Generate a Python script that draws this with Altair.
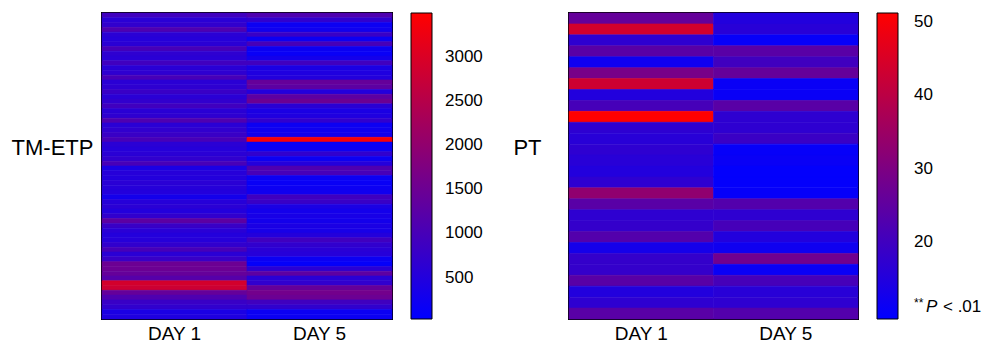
import altair as alt
import pandas as pd

days = ["DAY 1", "DAY 5"]

# TM-ETP (64 rows, top to bottom)
tm_day1 = [900, 600, 700, 1100, 600, 550, 600, 1000, 650, 600, 900, 600, 650, 1000, 600, 650,
           800, 600, 700, 900, 600, 650, 1100, 600, 700, 800, 1000, 600, 550, 600, 700, 1000,
           400, 550, 500, 600, 550, 500, 300, 550, 600, 500, 700, 1300, 800, 600, 500, 550,
           700, 1000, 600, 800, 1500, 1500, 1400, 1200, 2900, 2800, 1400, 1100, 800, 700, 400, 450]
tm_day5 = [1100, 700, 200, 250, 800, 200, 1000, 200, 150, 300, 900, 400, 450, 500, 1400, 1300,
           500, 1300, 1500, 600, 400, 450, 700, 200, 250, 300, 3400, 150, 200, 700, 200, 500,
           1100, 1000, 200, 150, 200, 250, 900, 800, 400, 300, 350, 300, 400, 350, 500, 900,
           700, 600, 550, 200, 100, 600, 1300, 600, 700, 1400, 1600, 1500, 900, 700, 200, 200]

# PT (28 rows, top to bottom)
pt_day1 = [26, 44, 17, 24, 12, 29, 43, 15, 21, 51, 17, 16, 17, 16,
           15, 17, 33, 24, 17, 18, 23, 13, 18, 18, 24, 15, 17, 24]
pt_day5 = [15, 16, 10.5, 24, 20, 26, 11, 11, 24, 17, 17, 19, 10.5, 11,
           10, 10, 10.5, 23, 17, 21, 15, 12, 28, 11, 21, 16, 17, 23]

tm_ticks = [500, 1000, 1500, 2000, 2500, 3000]
pt_ticks = [20, 30, 40, 50]
tm_domain = [30, 3500]
pt_domain = [9.5, 51.2]

note_parts = ["**", "P", "< .01"]

FONT = "Liberation Sans"


def to_df(d1, d5):
    rows = []
    for i, v in enumerate(d1):
        rows.append({"day": days[0], "row": i, "value": v})
    for i, v in enumerate(d5):
        rows.append({"day": days[1], "row": i, "value": v})
    return pd.DataFrame(rows)


def heat(df, title, title_x, domain, ticks, label_offset, width):
    cscale = alt.Scale(domain=domain, range=["#0000ff", "#ff0000"], interpolate="rgb")
    # stroke uses a doubled copy of the value so that its legend is not merged with the fill one
    sscale = alt.Scale(domain=[2 * domain[0], 2 * domain[1]], range=["#0000ff", "#ff0000"],
                       interpolate="rgb")
    return alt.Chart(df).transform_calculate(edge="2 * datum.value").mark_rect(strokeWidth=0.6).encode(
        x=alt.X("day:N", sort=days, scale=alt.Scale(padding=0),
                axis=alt.Axis(title=None, labelAngle=0, ticks=False, domain=False,
                              labelFontSize=19, labelFont=FONT, labelColor="black",
                              labelPadding=5)),
        y=alt.Y("row:O", scale=alt.Scale(padding=0),
                axis=alt.Axis(labels=False, ticks=False, domain=False, title=title,
                              titleAngle=0, titleAlign="right", titleBaseline="middle",
                              titleX=title_x, titleY=134, titleFontSize=22,
                              titleFont=FONT, titleFontWeight="normal", titleColor="black")),
        color=alt.Color("value:Q", scale=cscale,
                        legend=alt.Legend(type="gradient", title=None, values=ticks,
                                          format="d", gradientLength=306,
                                          gradientThickness=21, offset=19, padding=0,
                                          labelOffset=label_offset, labelFontSize=17,
                                          labelFont=FONT, labelColor="black",
                                          gradientStrokeColor="black", gradientStrokeWidth=1,
                                          labelOverlap=False, direction="vertical")),
        stroke=alt.Stroke("edge:Q", scale=sscale, legend=None),
    ).properties(width=width, height=306)


left = heat(to_df(tm_day1, tm_day5), "TM-ETP", -9, tm_domain, tm_ticks, 13, 290)
right_heat = heat(to_df(pt_day1, pt_day5), "PT", -28, pt_domain, pt_ticks, 16, 289)

note_df = pd.DataFrame({"t": note_parts})
note_stars = alt.Chart(note_df).transform_filter(alt.datum.t == note_parts[0]).mark_text(
    align="left", baseline="middle", fontSize=12, font=FONT, color="black"
).encode(x=alt.value(345), y=alt.value(290), text="t:N")
note_p = alt.Chart(note_df).transform_filter(alt.datum.t == note_parts[1]).mark_text(
    align="left", baseline="middle", fontSize=17, font=FONT, fontStyle="italic", color="black"
).encode(x=alt.value(357), y=alt.value(294), text="t:N")
note_rest = alt.Chart(note_df).transform_filter(alt.datum.t == note_parts[2]).mark_text(
    align="left", baseline="middle", fontSize=17, font=FONT, color="black"
).encode(x=alt.value(374), y=alt.value(294), text="t:N")

right = alt.layer(right_heat, note_stars, note_p, note_rest)

chart = alt.hconcat(left, right, spacing=27).resolve_scale(
    color="independent", stroke="independent", y="independent", x="independent"
).resolve_legend(color="independent").properties(
    padding={"left": 2, "top": 3, "right": 5, "bottom": 2}
).configure_view(stroke="black", strokeWidth=2)

chart.save("out.html", embed_options={"renderer": "svg", "actions": False})
